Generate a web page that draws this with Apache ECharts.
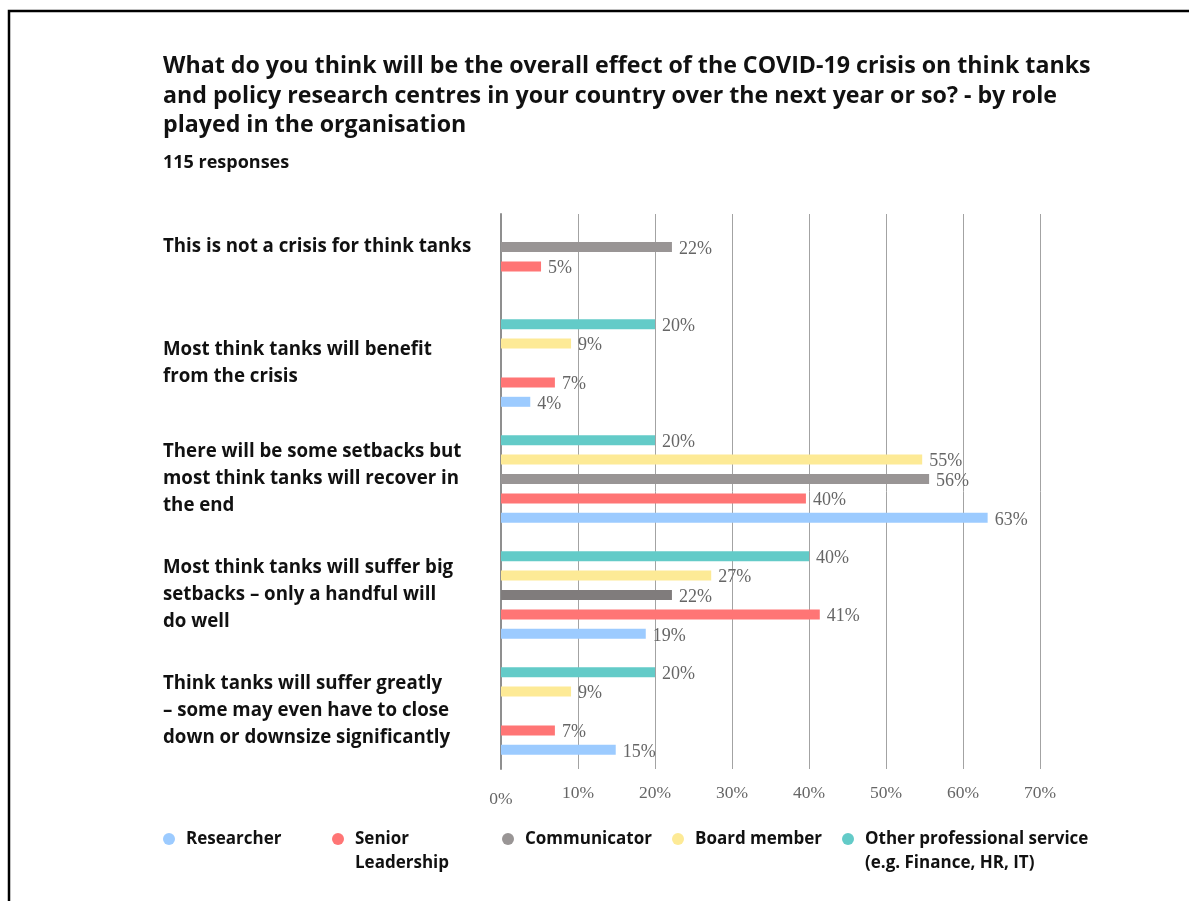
<!DOCTYPE html>
<html>
<head>
<meta charset="utf-8">
<script src="https://cdn.jsdelivr.net/npm/echarts@6/dist/echarts.min.js"></script>
<style>html,body{margin:0;padding:0;background:#fff;}#main{width:1189px;height:901px;}</style>
</head>
<body>
<div id="main"></div>
<script>
// Categories (top to bottom)
var categories = [
  'This is not a crisis for think tanks',
  'Most think tanks will benefit\nfrom the crisis',
  'There will be some setbacks but\nmost think tanks will recover in\nthe end',
  'Most think tanks will suffer big\nsetbacks – only a handful will\ndo well',
  'Think tanks will suffer greatly\n– some may even have to close\ndown or downsize significantly'
];
var seriesNames = ['Researcher', 'Senior Leadership', 'Communicator', 'Board member', 'Other professional service (e.g. Finance, HR, IT)'];
var legendLabels = ['Researcher', 'Senior\nLeadership', 'Communicator', 'Board member', 'Other professional service\n(e.g. Finance, HR, IT)'];
var researcher   = [null, 3.8, 63.2, 18.8, 14.9];
var senior       = [5.2, 7.0, 39.6, 41.4, 7.0];
var communicator = [22.2, null, 55.6, 22.2, null];
var board        = [null, 9.1, 54.7, 27.3, 9.1];
var other        = [null, 20.0, 20.0, 40.0, 20.0];
var xTicks = [0, 10, 20, 30, 40, 50, 60, 70];

var colors = ['#9ccbff', '#ff7575', '#999595', '#fdea96', '#63cbc8'];
var values = [researcher, senior, communicator, board, other];

var serif = 'Liberation Serif';
var sans = 'Open Sans';

var chart = echarts.init(document.getElementById('main'), null, {renderer: 'canvas'});

// series drawn top-to-bottom inside each band: Other, Board, Communicator, Senior, Researcher
var series = [];
for (var si = values.length - 1; si >= 0; si--) {
  (function (si) {
    var data = values[si].slice().reverse().map(function (v, i) {
      if (si === 2 && i === 1 && v != null) return {value: v, itemStyle: {color: '#807c7c'}};
      return v;
    });
    series.push({
      name: seriesNames[si],
      type: 'bar',
      xAxisIndex: 0,
      yAxisIndex: 0,
      barWidth: 10,
      barGap: '94%',
      itemStyle: {color: colors[si]},
      label: {
        show: true,
        position: 'right',
        distance: 7,
        offset: [0, 2],
        fontFamily: serif,
        fontSize: 18,
        color: '#666',
        formatter: function (p) { return Math.round(p.value) + '%'; }
      },
      data: data
    });
  })(si);
}

var legendLefts = [163, 332, 502, 672, 842];
var legends = seriesNames.map(function (n, i) {
  var two = legendLabels[i].indexOf('\n') >= 0;
  return {
    data: [{name: n, icon: 'circle'}],
    left: legendLefts[i],
    top: two ? 803 : 827,
    padding: 0,
    itemWidth: 12,
    itemHeight: 12,
    selectedMode: false,
    formatter: function () { return two ? '\n' + legendLabels[i] : legendLabels[i]; },
    textStyle: {
      fontFamily: sans,
      fontWeight: 'bold',
      fontSize: 17,
      color: '#111',
      lineHeight: 24,
      padding: [0, 0, 0, 6]
    }
  };
});

var option = {
  animation: false,
  backgroundColor: '#fff',
  title: {
    text: 'What do you think will be the overall effect of the COVID-19 crisis on think tanks\nand policy research centres in your country over the next year or so? - by role\nplayed in the organisation',
    subtext: '115 responses',
    left: 163,
    top: 52,
    padding: 0,
    itemGap: 12,
    textStyle: {fontFamily: sans, fontWeight: 'bold', fontSize: 23.2, lineHeight: 29.5, color: '#111'},
    subtextStyle: {fontFamily: sans, fontWeight: 'bold', fontSize: 18, lineHeight: 20, color: '#111'}
  },
  graphic: [{
    type: 'rect',
    shape: {x: 9, y: 11, width: 1400, height: 1200},
    style: {fill: 'none', stroke: '#000', lineWidth: 2.5},
    silent: true
  }],
  legend: legends,
  grid: [
    {left: 501, right: 149, top: 189, height: 580},
    {left: 501, right: 149, top: 214, height: 555}
  ],
  xAxis: [
    {gridIndex: 0, type: 'value', min: 0, max: 70, show: false},
    {
      gridIndex: 1, type: 'value', min: 0, max: 70, interval: 10,
      axisLine: {show: false}, axisTick: {show: false},
      splitLine: {show: true, lineStyle: {color: '#a3a3a3', width: 1}},
      axisLabel: {
        margin: 15,
        fontFamily: serif, fontSize: 17.5, color: '#666',
        formatter: function (v) { return v === 0 ? '{z|' + v + '%}' : v + '%'; },
        rich: {z: {fontFamily: serif, fontSize: 17.5, color: '#666', padding: [6, 0, 0, 0]}}
      }
    }
  ],
  yAxis: [
    {
      gridIndex: 0, type: 'category', data: categories.slice().reverse(),
      axisLine: {show: false}, axisTick: {show: false}, splitLine: {show: false},
      axisLabel: {
        align: 'left', margin: 338,
        fontFamily: sans, fontWeight: 'bold', fontSize: 18.7, lineHeight: 27, color: '#111'
      }
    },
    {
      gridIndex: 1, type: 'value', min: 0, max: 1,
      axisLine: {show: true, lineStyle: {color: '#8f8f8f', width: 2}},
      axisTick: {show: false}, axisLabel: {show: false}, splitLine: {show: false}
    }
  ],
  series: series
};
chart.setOption(option);
</script>
</body>
</html>
